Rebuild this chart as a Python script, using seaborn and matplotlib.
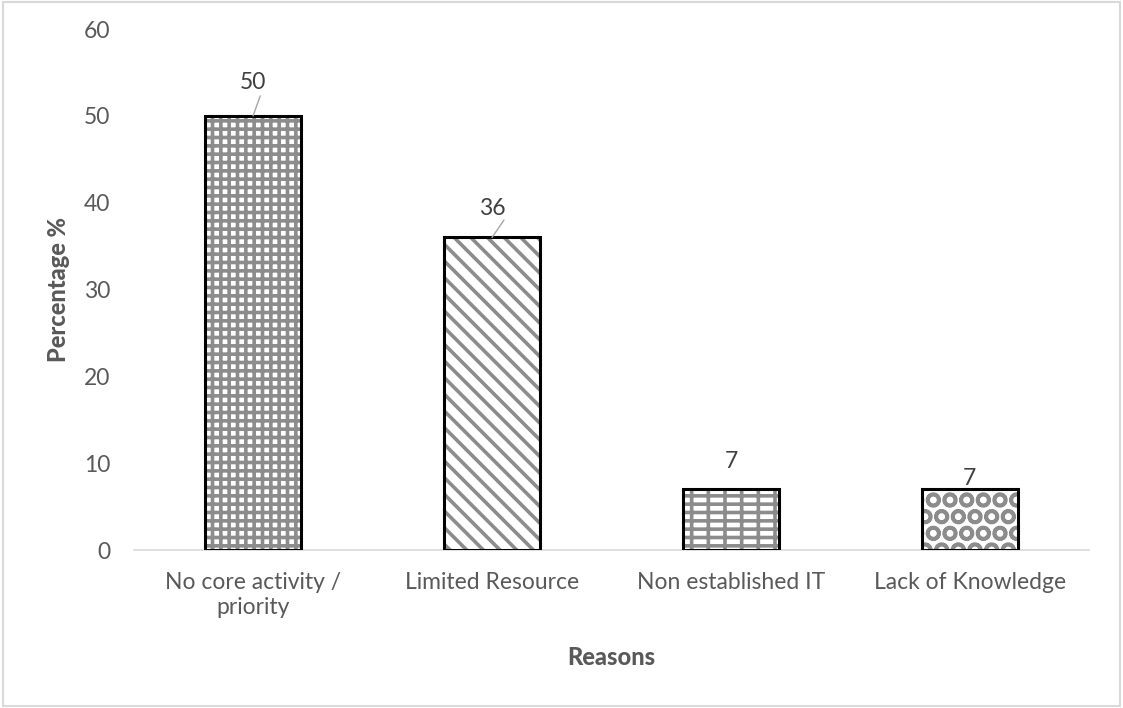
import matplotlib
matplotlib.use("Agg")
import matplotlib.pyplot as plt
import seaborn as sns
import pandas as pd
from matplotlib.patches import Rectangle

reasons = ["No core activity /\npriority", "Limited Resource", "Non established IT", "Lack of Knowledge"]
percentages = [50, 36, 7, 7]
hatches = ["++", "\\\\", "--|", "O"]
yticks = [0, 10, 20, 30, 40, 50, 60]

sns.set_theme(style="white")
plt.rcParams["font.family"] = ["Lato", "DejaVu Sans"]
plt.rcParams["hatch.linewidth"] = 2.6

df = pd.DataFrame({"Reason": reasons, "Percentage": percentages})

fig = plt.figure(figsize=(11.23, 7.08), dpi=100)
ax = fig.add_axes([0.119, 0.223, 0.851, 0.736])

sns.barplot(data=df, x="Reason", y="Percentage", ax=ax, color="white",
            width=0.4, edgecolor="#808080", linewidth=0, saturation=1)
for patch, h in zip(ax.patches, hatches):
    patch.set_hatch(h)
    patch.set_edgecolor("#8c8c8c")

# crisp black outline over the hatched fill
ax.bar(range(len(percentages)), percentages, width=0.4, facecolor="none",
       edgecolor="black", linewidth=2.2, zorder=3)

ax.set_xlim(-0.5, len(reasons) - 0.5)
ax.set_ylim(0, 60)
ax.set_yticks(yticks)
ax.set_yticklabels([str(t) for t in yticks])
ax.tick_params(axis="both", length=0, labelsize=16.5, labelcolor="#595959")
ax.tick_params(axis="y", pad=17)
ax.tick_params(axis="x", pad=16)

for side in ["top", "right", "left"]:
    ax.spines[side].set_visible(False)
ax.spines["bottom"].set_color("#d9d9d9")
ax.spines["bottom"].set_linewidth(1.2)

ax.set_xlabel("Reasons", fontsize=17, fontweight="black", color="#595959", labelpad=20)
ax.set_ylabel("Percentage %", fontsize=17, fontweight="black", color="#595959", labelpad=10)

# value labels, with leader lines where they sit above the bar
label_offsets = [(0, 3.8), (0, 3.3), (0, 3.2), (0, 1.3)]
for i, (v, (dx, dy)) in enumerate(zip(percentages, label_offsets)):
    ax.text(i + dx, v + dy, str(v), ha="center", va="center",
            fontsize=16.5, color="#404040", zorder=5)
ax.plot([0.0, 0.03], [50.0, 52.3], color="#a6a6a6", lw=1, zorder=4)
ax.plot([1.0, 1.05], [36.0, 38.0], color="#a6a6a6", lw=1, zorder=4)

fig.patches.append(Rectangle((0.003, 0.003), 0.994, 0.994, transform=fig.transFigure,
                             fill=False, edgecolor="#d9d9d9", linewidth=1.5))

fig.savefig("out.png", dpi=100)
